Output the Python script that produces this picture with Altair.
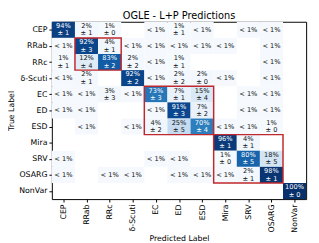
import json
import altair as alt
import pandas as pd

classes = ["CEP", "RRab", "RRc", "δ-Scuti", "EC", "ED", "ESD", "Mira", "SRV", "OSARG", "NonVar"]
L = "<1"
N = None
# mean percentage (rows = true label, cols = predicted label); None = empty cell
mean_pct = [
    [94, 2, 1, N, L, 1, L, N, L, L, N],
    [L, 92, 4, L, L, L, L, L, N, L, N],
    [1, 12, 83, 2, L, 1, N, N, N, L, N],
    [L, 2, N, 92, L, 2, 2, L, N, L, N],
    [L, L, 3, L, 73, 7, 15, N, L, L, N],
    [L, L, N, N, L, 91, 7, N, L, L, N],
    [N, L, N, L, 4, 25, 70, L, L, 1, N],
    [N, N, N, N, N, N, N, 96, 4, N, N],
    [L, N, N, N, L, L, N, 1, 80, 18, N],
    [L, N, L, L, N, L, L, L, 2, 98, N],
    [N, N, N, N, N, N, N, N, N, N, 100],
]
std_pct = [
    [1, 1, 0, N, N, 1, N, N, N, N, N],
    [N, 3, 1, N, N, N, N, N, N, N, N],
    [1, 4, 2, 2, N, 1, N, N, N, N, N],
    [N, 1, N, 2, N, 2, 0, N, N, N, N],
    [N, N, 3, N, 3, 1, 4, N, N, N, N],
    [N, N, N, N, N, 3, 2, N, N, N, N],
    [N, N, N, N, 2, 5, 4, N, N, 0, N],
    [N, N, N, N, N, N, N, 1, 1, N, N],
    [N, N, N, N, N, N, N, 0, 5, 5, N],
    [N, N, N, N, N, N, N, N, 1, 1, N],
    [N, N, N, N, N, N, N, N, N, N, 0],
]
# class groups outlined in red (first index, last index)
groups = [(1, 2), (4, 6), (7, 9)]

blues = ["#f7fbff", "#deebf7", "#c6dbef", "#9ecae1", "#6baed6",
         "#4292c6", "#2171b5", "#08519c", "#08306b"]

recs = []
for i in range(len(classes)):
    for j in range(len(classes)):
        m = mean_pct[i][j]
        if m is None:
            continue
        if m == L:
            recs.append(dict(x0=j, x1=j + 1, y0=i, y1=i + 1, v=0.012, t1="< 1%", t2="", two=0))
        else:
            recs.append(dict(x0=j, x1=j + 1, y0=i, y1=i + 1, v=m / 100.0,
                             t1=f"{m}%", t2=f"± {std_pct[i][j]}", two=1))
cells = pd.DataFrame(recs)
boxes = pd.DataFrame([dict(x0=a, x1=b + 1, y0=a, y1=b + 1) for a, b in groups])

names = json.dumps(classes, ensure_ascii=False)
FONT = "DejaVu Sans"
ticks = [k + 0.5 for k in range(len(classes))]

xaxis = alt.Axis(values=ticks, labelExpr=f"{names}[floor(datum.value)]", title="Predicted Label",
                 labelAngle=270, labelAlign="right", labelBaseline="middle", grid=False,
                 domain=False, tickColor="black", tickSize=3, labelPadding=2,
                 labelFontSize=8, titleFontSize=8, labelFont=FONT, titleFont=FONT,
                 titleFontWeight="normal", labelColor="black", titleColor="black", titlePadding=3)
yaxis = alt.Axis(values=ticks, labelExpr=f"{names}[floor(datum.value)]", title="True Label",
                 grid=False, domain=False, tickColor="black", tickSize=3, labelPadding=2,
                 labelFontSize=8, titleFontSize=8, labelFont=FONT, titleFont=FONT,
                 titleFontWeight="normal", labelColor="black", titleColor="black", titlePadding=3)
xs = alt.Scale(domain=[0, 11], nice=False, zero=False)
ys = alt.Scale(domain=[0, 11], nice=False, zero=False, reverse=True)

heat = alt.Chart(cells).mark_rect().encode(
    x=alt.X("x0:Q", scale=xs, axis=xaxis),
    x2="x1:Q",
    y=alt.Y("y0:Q", scale=ys, axis=yaxis),
    y2="y1:Q",
    color=alt.Color("v:Q", scale=alt.Scale(domain=[k / 8 for k in range(9)], range=blues), legend=None),
)

tcolor = alt.condition("datum.v > 0.5", alt.value("white"), alt.value("#111111"))

text1 = alt.Chart(cells).transform_calculate(
    xc="datum.x0 + 0.5", yc="datum.y0 + 0.5 - 0.23 * datum.two"
).mark_text(font=FONT, fontSize=6.8, baseline="middle", align="center").encode(
    x=alt.X("xc:Q", scale=xs, axis=xaxis),
    y=alt.Y("yc:Q", scale=ys, axis=yaxis),
    text="t1:N",
    color=tcolor,
)

text2 = alt.Chart(cells).transform_filter("datum.two == 1").transform_calculate(
    xc="datum.x0 + 0.5", yc="datum.y0 + 0.5 + 0.23"
).mark_text(font=FONT, fontSize=6.8, baseline="middle", align="center").encode(
    x=alt.X("xc:Q", scale=xs, axis=xaxis),
    y=alt.Y("yc:Q", scale=ys, axis=yaxis),
    text="t2:N",
    color=tcolor,
)

box = alt.Chart(boxes).mark_rect(fill=None, filled=False, stroke="#c0282d", strokeWidth=1.5).encode(
    x=alt.X("x0:Q", scale=xs, axis=xaxis),
    x2="x1:Q",
    y=alt.Y("y0:Q", scale=ys, axis=yaxis),
    y2="y1:Q",
)

chart = alt.layer(heat, text1, text2, box).properties(
    width=261, height=182,
    title=alt.Title("OGLE - L+P Predictions", fontSize=10, font=FONT, fontWeight="normal",
                    color="black", offset=1),
    padding={"left": 0, "top": 0, "right": 5, "bottom": 0},
).configure_view(stroke="black", strokeWidth=1)

chart.save("out.html", embed_options={"renderer": "svg", "actions": False})
